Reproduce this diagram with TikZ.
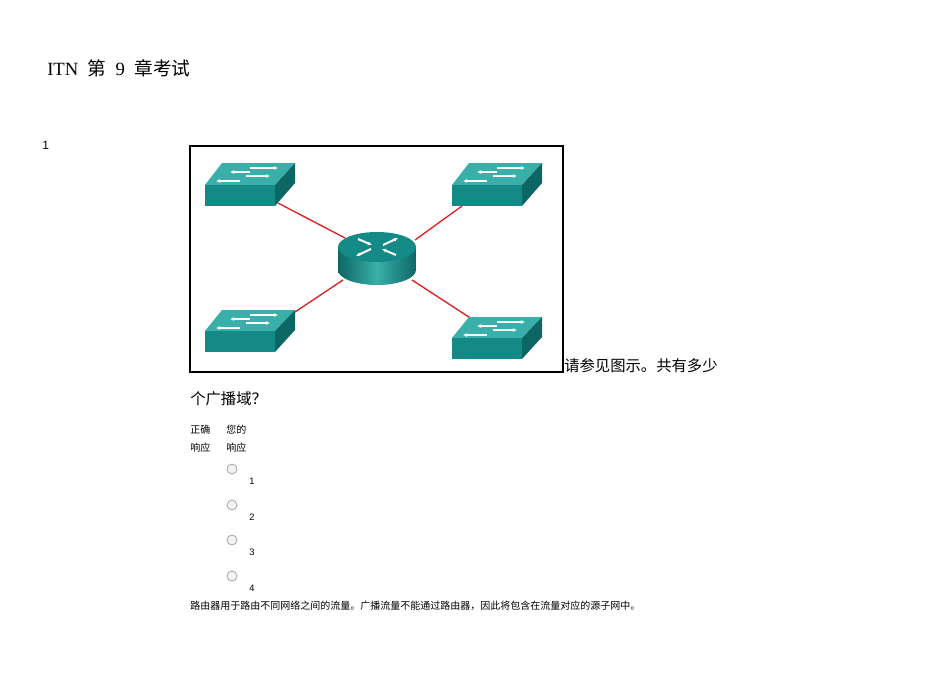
\documentclass[tikz,border=0pt]{standalone}
\usepackage{fontspec}
\setmainfont{Liberation Serif}
\setsansfont{Liberation Sans}
\newfontfamily\cjk{Noto Sans CJK SC}
\definecolor{tealfront}{HTML}{138A86}
\definecolor{tealtop}{HTML}{3AAFA9}
\definecolor{tealside}{HTML}{0C6764}
\definecolor{linkred}{HTML}{E02020}
\tikzset{
  link/.style={draw=linkred, line width=1pt},
  txt/.style={anchor=west, inner sep=0pt},
  small/.style={txt, font=\cjk\fontsize{7.5}{9}\selectfont},
  num/.style={txt, font=\sffamily\fontsize{7}{8}\selectfont},
  radio/.style={circle, draw=gray!70, fill=gray!10, minimum size=7.5pt, inner sep=0pt, line width=0.6pt},
  warrow/.style={white, line width=1pt, -{Latex[length=3pt,width=3pt]}}
}
\usetikzlibrary{arrows.meta}
\newcommand{\swdraw}[5]{% name, front-left x, front top y, back-left x, back top y
  \fill[tealtop] (#2,#3) -- (#4,#5) -- (#4+73,#5) -- (#2+70,#3) -- cycle;
  \fill[tealfront] (#2,#3) rectangle (#2+70,#3+21);
  \fill[tealside] (#2+70,#3) -- (#4+73,#5) -- (#4+73,#5+20) -- (#2+70,#3+21) -- cycle;
  \draw[warrow] (#4+28,#5+5) -- (#4+56,#5+5);
  \draw[warrow] (#4+28,#5+9) -- (#4+8,#5+9);
  \draw[warrow] (#4+24,#5+13) -- (#4+48,#5+13);
  \draw[warrow] (#4+18,#5+18) -- (#4-6,#5+18);
  \coordinate (#1) at (#2+35,#3);
}
\begin{document}
\begin{tikzpicture}[x=0.75pt,y=-0.75pt]
\useasboundingbox (0,0) rectangle (950,672);
\fill[white] (0,0) rectangle (950,672);
\node[txt, font=\fontsize{14}{16}\selectfont] (title) at (47,68) {ITN\ \ {\cjk 第}\ \ 9\ \ {\cjk 章考试}};
\node[txt, font=\sffamily\fontsize{9}{10}\selectfont] (qnum) at (42,145) {1};
\draw[line width=1.3pt] (190,146) rectangle (563,372);
% links
\coordinate (tlA) at (278,203); \coordinate (trA) at (462,206);
\coordinate (blA) at (295,312); \coordinate (brA) at (475,321);
\coordinate (r1) at (345,238); \coordinate (r2) at (415,240);
\coordinate (r3) at (343,280); \coordinate (r4) at (412,280);
\draw[link] (tlA) -- (r1); \draw[link] (trA) -- (r2);
\draw[link] (blA) -- (r3); \draw[link] (brA) -- (r4);
% switches
\swdraw{swTL}{205}{185}{222}{163}
\swdraw{swTR}{452}{185}{469}{163}
\swdraw{swBL}{205}{331}{222}{310}
\swdraw{swBR}{452}{338}{469}{317}
% router
\shade[left color=tealside, right color=tealside, middle color=tealtop]
  (338,247) -- (338,270) arc[start angle=180, end angle=0, x radius=39, y radius=15] -- (416,247) -- cycle;
\fill[tealfront] (377,247) ellipse[x radius=39, y radius=15];
\node[circle, inner sep=0pt, minimum size=1pt] (router) at (377,258) {};
\draw[warrow, line width=1.5pt] (358,239) -- (372,245);
\draw[warrow, line width=1.5pt] (396,255) -- (382,249);
\draw[warrow, line width=1.5pt] (383,245) -- (398,238);
\draw[warrow, line width=1.5pt] (371,249) -- (356,256);
% question
\node[txt, font=\cjk\fontsize{11.5}{13}\selectfont] (q1) at (564,366) {请参见图示。共有多少};
\node[txt, font=\cjk\fontsize{11.5}{13}\selectfont] (q2) at (190,399) {个广播域？};
\node[small] (h1) at (190,430) {正确};
\node[small] (h2) at (226,430) {您的};
\node[small] (h3) at (190,448) {响应};
\node[small] (h4) at (226,448) {响应};
\foreach \y/\n [count=\i] in {469/1,505/2,540/3,576/4}{
  \node[radio] (rb\i) at (232,\y) {};
  \node[num] (opt\i) at (249,\y+12) {\n};
}
\node[small] (expl) at (190,606) {路由器用于路由不同网络之间的流量。广播流量不能通过路由器，因此将包含在流量对应的源子网中。};
\end{tikzpicture}
\end{document}
